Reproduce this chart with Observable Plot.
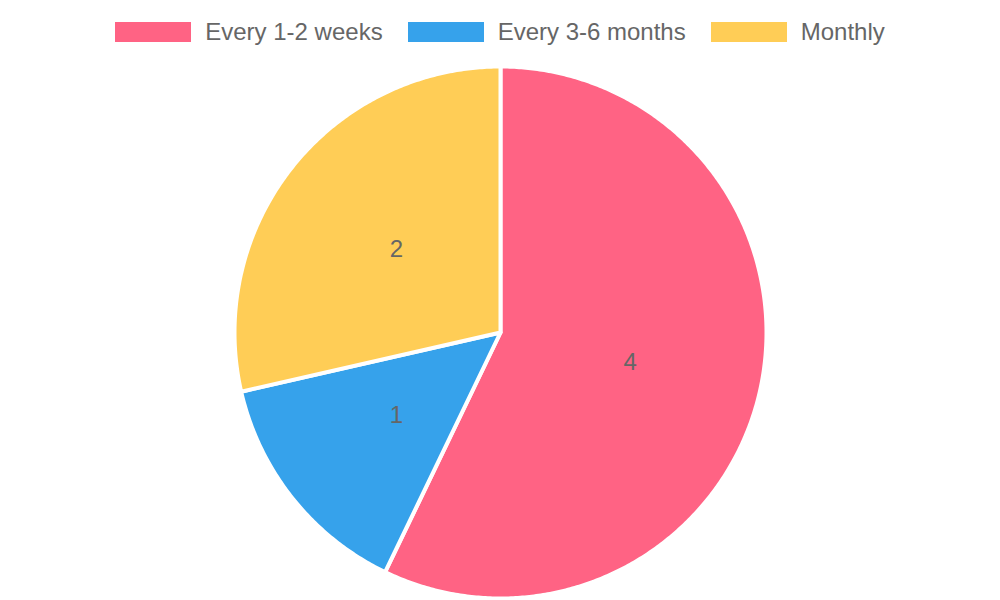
<!DOCTYPE html>
<html>
<head>
<meta charset="utf-8">
<script src="https://cdn.jsdelivr.net/npm/d3@7"></script>
<script src="https://cdn.jsdelivr.net/npm/@observablehq/plot@0.6"></script>
<style>
  html, body { margin: 0; padding: 0; background: #fff; }
  body { width: 1000px; height: 600px; overflow: hidden; font-family: "Liberation Sans", Arial, sans-serif; }
  #legend { height: 60px; box-sizing: border-box; padding-top: 20px; display: flex; justify-content: center; align-items: flex-start; }
  .item { display: flex; align-items: center; margin: 0 12.5px; height: 24px; }
  .box { width: 76px; height: 20px; margin-right: 14px; }
  .lab { font-size: 24px; color: #666; line-height: 24px; white-space: nowrap; }
  #chart svg { display: block; }
</style>
</head>
<body>
<div id="legend"></div>
<div id="chart"></div>
<script>
const labels = ["Every 1-2 weeks", "Every 3-6 months", "Monthly"];
const values = [4, 1, 2];
const colors = ["#ff6384", "#36a2eb", "#ffcd56"];

// Legend
const legend = document.getElementById("legend");
labels.forEach((l, i) => {
  const it = document.createElement("div");
  it.className = "item";
  it.innerHTML = `<div class="box" style="background:${colors[i]}"></div><div class="lab">${l}</div>`;
  legend.appendChild(it);
});

// Pie geometry from data (angles clockwise from top)
const arcs = d3.pie().sort(null).value(d => d.value)(labels.map((l, i) => ({label: l, value: values[i]})));
const slicePts = [];
const labelPts = [];
arcs.forEach(a => {
  const name = a.data.label;
  slicePts.push({slice: name, x: 0, y: 0});
  const n = Math.max(2, Math.ceil((a.endAngle - a.startAngle) / (Math.PI / 360)));
  for (let k = 0; k <= n; k++) {
    const t = a.startAngle + (a.endAngle - a.startAngle) * k / n;
    slicePts.push({slice: name, x: Math.sin(t), y: Math.cos(t)});
  }
  const m = (a.startAngle + a.endAngle) / 2;
  labelPts.push({slice: name, value: a.data.value, x: 0.5 * Math.sin(m), y: 0.5 * Math.cos(m)});
});

const chart = Plot.plot({
  width: 1000,
  height: 540,
  margin: 0,
  x: {domain: [-1, 1], range: [234, 766], axis: null},
  y: {domain: [-1, 1], range: [538, 6], axis: null},
  color: {domain: labels, range: colors},
  style: {fontFamily: '"Liberation Sans", Arial, sans-serif', background: "#fff"},
  marks: [
    Plot.line(slicePts, {x: "x", y: "y", z: "slice", fill: "slice", stroke: "white", strokeWidth: 4, strokeLinejoin: "round", curve: "linear-closed"}),
    Plot.text(labelPts, {x: "x", y: "y", text: d => String(d.value), fill: "#666", fontSize: 24})
  ]
});
document.getElementById("chart").appendChild(chart);
</script>
</body>
</html>
